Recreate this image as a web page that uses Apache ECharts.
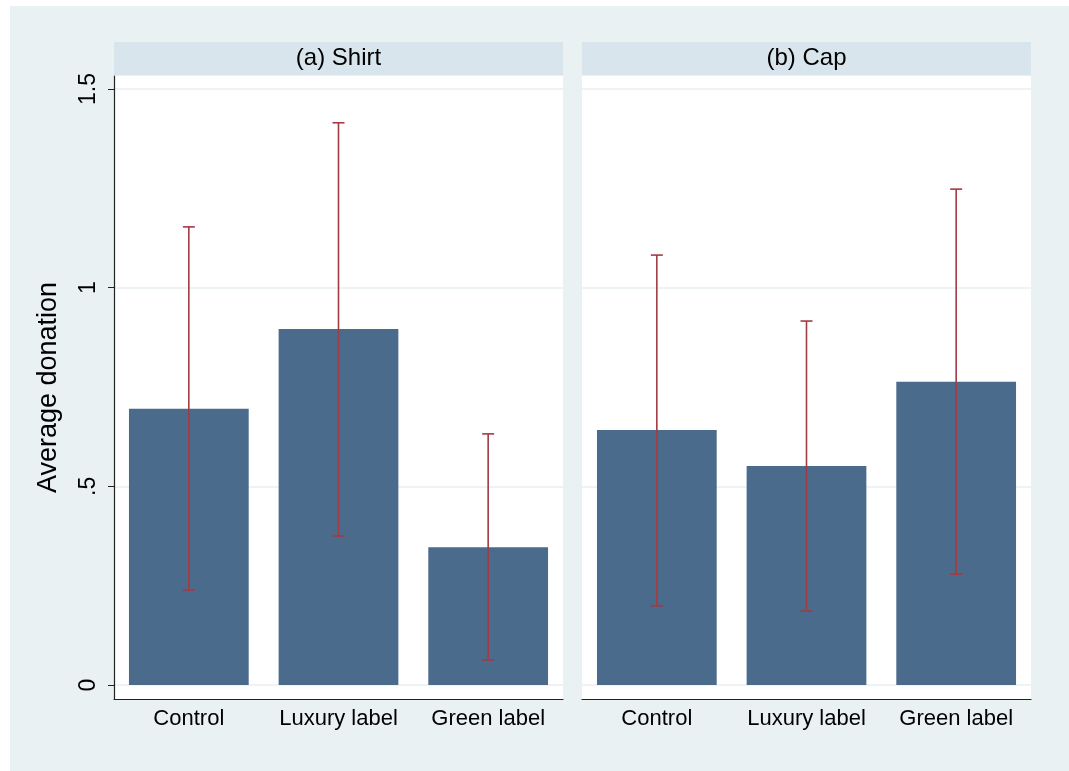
<!DOCTYPE html>
<html>
<head>
<meta charset="utf-8">
<script src="https://cdn.jsdelivr.net/npm/echarts@6/dist/echarts.min.js"></script>
<style>
  html, body { margin: 0; padding: 0; background: #ffffff; }
  #chart { width: 1069px; height: 771px; }
</style>
</head>
<body>
<div id="chart"></div>
<script>
// Treatment groups shown in both panels
const categories = ['Control', 'Luxury label', 'Green label'];
const panelTitles = ['(a) Shirt', '(b) Cap'];

// Average donation per group
const shirtMeans = [0.695, 0.896, 0.347];
const capMeans = [0.642, 0.551, 0.763];

// Confidence interval bounds
const shirtLow = [0.239, 0.375, 0.063];
const shirtHigh = [1.153, 1.415, 0.632];
const capLow = [0.199, 0.186, 0.279];
const capHigh = [1.082, 0.916, 1.248];

// Y axis ticks and their printed labels
const yTicks = [0, 0.5, 1, 1.5];
const yTickLabels = ['0', '.5', '1', '1.5'];

const FONT = 'Liberation Sans, Arial, Helvetica, sans-serif';
const BAR_COLOR = '#4a6b8c';
const CI_COLOR = '#a03c44';
const GRID_LINE = '#e8f0f2';

const chart = echarts.init(document.getElementById('chart'), null, { renderer: 'canvas' });

const grids = [
  { left: 114, top: 76, width: 449, height: 623 },
  { left: 582, top: 76, width: 449, height: 623 }
];

function errorBarSeries(axisIndex, lows, highs) {
  return {
    type: 'custom',
    xAxisIndex: axisIndex,
    yAxisIndex: axisIndex,
    z: 5,
    data: categories.map((c, i) => [i, lows[i], highs[i]]),
    renderItem: function (params, api) {
      const idx = api.value(0);
      const lo = api.coord([idx, api.value(1)]);
      const hi = api.coord([idx, api.value(2)]);
      const half = 6;
      const style = { stroke: CI_COLOR, lineWidth: 1.6 };
      return {
        type: 'group',
        children: [
          { type: 'line', shape: { x1: hi[0], y1: hi[1], x2: lo[0], y2: lo[1] }, style: style },
          { type: 'line', shape: { x1: hi[0] - half, y1: hi[1], x2: hi[0] + half, y2: hi[1] }, style: style },
          { type: 'line', shape: { x1: lo[0] - half, y1: lo[1], x2: lo[0] + half, y2: lo[1] }, style: style }
        ]
      };
    }
  };
}

function xAxisFor(i) {
  return {
    type: 'category',
    gridIndex: i,
    data: categories,
    axisLine: { onZero: false, lineStyle: { color: '#222', width: 1.2 } },
    axisTick: { alignWithLabel: true, length: 7, lineStyle: { color: '#222' } },
    axisLabel: { interval: 0, color: '#000', fontSize: 22, fontFamily: FONT, margin: 9 }
  };
}

function yAxisFor(i) {
  const first = i === 0;
  return {
    type: 'value',
    gridIndex: i,
    min: -0.0352,
    max: 1.5327,
    name: first ? 'Average donation' : '',
    nameLocation: 'middle',
    nameRotate: 90,
    nameGap: 52,
    nameTextStyle: { color: '#000', fontSize: 27, fontFamily: FONT },
    axisLine: { show: first, onZero: false, lineStyle: { color: '#222', width: 1.2 } },
    axisTick: {
      show: first, length: 6, customValues: yTicks,
      lineStyle: { color: '#222' }
    },
    axisLabel: {
      show: first,
      customValues: yTicks,
      rotate: 90,
      margin: 14,
      color: '#000',
      fontSize: 23,
      fontFamily: FONT,
      formatter: function (v) {
        const k = yTicks.indexOf(v);
        return k >= 0 ? yTickLabels[k] : '';
      }
    },
    splitLine: { show: true, lineStyle: { color: GRID_LINE, width: 1.5 } }
  };
}

const option = {
  animation: false,
  backgroundColor: '#ffffff',
  graphic: [
    { type: 'rect', z: -10, shape: { x: 10, y: 6, width: 1059, height: 765 }, style: { fill: '#e9f1f3' } },
    {
      type: 'rect', z: -5, shape: { x: 114, y: 42, width: 449, height: 33 },
      style: { fill: '#d9e5ec' }
    },
    {
      type: 'rect', z: -5, shape: { x: 582, y: 42, width: 449, height: 33 },
      style: { fill: '#d9e5ec' }
    },
    {
      type: 'text', x: 338.5, y: 58.5,
      style: { text: panelTitles[0], fill: '#000', font: '24px ' + FONT, align: 'center', verticalAlign: 'middle' }
    },
    {
      type: 'text', x: 806.5, y: 58.5,
      style: { text: panelTitles[1], fill: '#000', font: '24px ' + FONT, align: 'center', verticalAlign: 'middle' }
    }
  ],
  grid: grids.map(g => Object.assign({ show: true, backgroundColor: '#ffffff', borderWidth: 0, containLabel: false }, g)),
  xAxis: [xAxisFor(0), xAxisFor(1)],
  yAxis: [yAxisFor(0), yAxisFor(1)],
  series: [
    {
      type: 'bar', xAxisIndex: 0, yAxisIndex: 0, data: shirtMeans,
      barWidth: '80%', itemStyle: { color: BAR_COLOR }
    },
    {
      type: 'bar', xAxisIndex: 1, yAxisIndex: 1, data: capMeans,
      barWidth: '80%', itemStyle: { color: BAR_COLOR }
    },
    errorBarSeries(0, shirtLow, shirtHigh),
    errorBarSeries(1, capLow, capHigh)
  ]
};

chart.setOption(option);
</script>
</body>
</html>
